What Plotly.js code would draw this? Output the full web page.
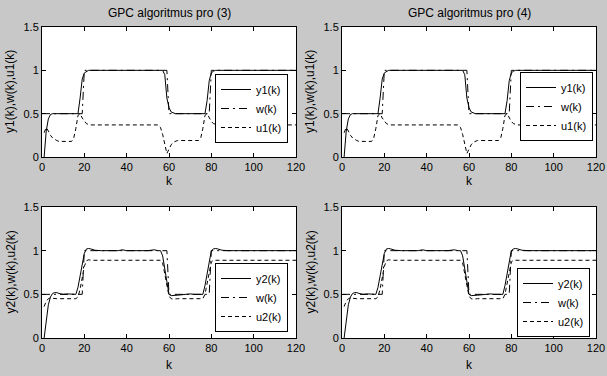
<!DOCTYPE html>
<html>
<head>
<meta charset="utf-8">
<script src="https://cdn.plot.ly/plotly-3.0.1.min.js"></script>
<style>html,body{margin:0;padding:0;background:#c8c8c8;}#chart{width:607px;height:376px;}</style>
</head>
<body>
<div id="chart"></div>
<script>
// ---- data ----
// reference trajectory w(k), same in all panels
const kW = [0, 19, 20, 59, 60, 79, 80, 120];
const w  = [0.5, 0.5, 1, 1, 0.5, 0.5, 1, 1];

// top panels: output y1(k) and control u1(k)
const kY1 = [1,2,3,4,5, 17,18,19,20,21,22, 57,58,59,60,61,62,63, 77,78,79,80,81,82, 120];
const y1  = [0,0.3,0.44,0.49,0.5, 0.5,0.68,0.9,0.97,0.99,1, 1,0.95,0.68,0.57,0.52,0.505,0.5, 0.5,0.65,0.88,0.97,0.99,1, 1];
const kU1 = [1,2,3,4,5,6,7,8, 14,15,16,17,18,19,20,21,22,23, 55,56,57,58,59,60,61,62,63,64, 74,75,76,77,78,79,80,81,82,83, 120];
const u1  = [0.28,0.34,0.3,0.25,0.22,0.2,0.19,0.18, 0.18,0.22,0.33,0.48,0.5,0.45,0.41,0.385,0.375,0.37, 0.37,0.34,0.26,0.13,0.04,0.09,0.14,0.17,0.185,0.19, 0.19,0.22,0.33,0.48,0.5,0.45,0.41,0.385,0.375,0.37, 0.37];

// bottom panels: output y2(k) and control u2(k)
const kY2 = [1,2,3,4,5,6,7,8, 10,12,14,16, 17,18,19,20,21,22,23, 25,28,36,38,40,50,53,55, 56,57,58,59,60,61,62,64, 68,70,72,76, 77,78,79,80,81,82,83, 85,88,98,100,102,120];
const y2  = [0,0.2,0.38,0.47,0.51,0.52,0.52,0.51, 0.5,0.505,0.5,0.5, 0.58,0.71,0.84,0.97,1.02,1.025,1.02, 1.005,1,1,1.01,1,1,1.01,1, 1,0.94,0.8,0.64,0.5,0.485,0.485,0.49, 0.5,0.505,0.5,0.5, 0.6,0.74,0.88,1,1.02,1.025,1.02, 1.005,1,1,1.008,1,1];
const kU2 = [1,2,3,4,5,7, 16,17,18,19,20,21,22, 24, 56,57,58,59,60,61,62, 64, 76,77,78,79,80,81, 83,120];
const u2  = [0.36,0.42,0.45,0.46,0.455,0.45, 0.45,0.47,0.56,0.69,0.82,0.885,0.895, 0.89, 0.89,0.86,0.74,0.6,0.48,0.45,0.445, 0.45, 0.45,0.5,0.63,0.77,0.87,0.89, 0.89,0.89];

const titles = ['GPC algoritmus pro (3)', 'GPC algoritmus pro (4)'];
const xTicks = [0, 20, 40, 60, 80, 100, 120];
const yTicks = [0, 0.5, 1, 1.5];
const yTickText = ['0', '0.5', '1', '1.5'];
const yLabelTop = 'y1(k),w(k),u1(k)';
const yLabelBottom = 'y2(k),w(k),u2(k)';
const namesTop = ['y1(k)', 'w(k)', 'u1(k)'];
const namesBottom = ['y2(k)', 'w(k)', 'u2(k)'];

// ---- styling ----
const FONT = 'Liberation Sans, Arial, sans-serif';
const W = 607, H = 376;
const solid = 'solid', dashdot = '8px,4px,2px,4px', dashed = '4px,3px';

const panels = [
  {ax: '', leg: 'legend',  k: [kY1, kW, kU1], v: [y1, w, u1], names: namesTop},
  {ax: '2', leg: 'legend2', k: [kY1, kW, kU1], v: [y1, w, u1], names: namesTop},
  {ax: '3', leg: 'legend3', k: [kY2, kW, kU2], v: [y2, w, u2], names: namesBottom},
  {ax: '4', leg: 'legend4', k: [kY2, kW, kU2], v: [y2, w, u2], names: namesBottom}
];
const dashes = [solid, dashdot, dashed];

const data = [];
panels.forEach(p => {
  for (let i = 0; i < 3; i++) {
    data.push({
      type: 'scatter', mode: 'lines',
      x: p.k[i], y: p.v[i], name: p.names[i],
      xaxis: 'x' + p.ax, yaxis: 'y' + p.ax, legend: p.leg,
      line: {color: '#000', width: 1, dash: dashes[i]},
      hoverinfo: 'skip'
    });
  }
});

// pixel geometry
const colX = [[42, 296], [342, 596]];
const rowY = [[27, 157], [207, 338]];
const px = v => v / W, py = v => 1 - v / H;

function axis(dom, range, tv, tt) {
  return {
    domain: dom, range: range, tickvals: tv, ticktext: tt,
    ticks: 'inside', ticklen: 4, tickcolor: '#000', tickwidth: 1,
    showline: true, mirror: 'ticks', linecolor: '#000', linewidth: 1,
    showgrid: false, zeroline: false, fixedrange: true,
    tickfont: {family: FONT, size: 11, color: '#000'}
  };
}

const layout = {
  width: W, height: H, autosize: false,
  margin: {l: 0, r: 0, t: 0, b: 0},
  paper_bgcolor: '#c8c8c8', plot_bgcolor: '#ffffff',
  showlegend: true,
  font: {family: FONT, size: 11, color: '#000'},
  annotations: [],
  hovermode: false
};

const legPos = [[215, 74], [520, 72], [215, 263], [517, 268]];
panels.forEach((p, idx) => {
  const c = idx % 2, r = Math.floor(idx / 2);
  const xa = 'xaxis' + p.ax, ya = 'yaxis' + p.ax;
  layout[xa] = axis([px(colX[c][0]), px(colX[c][1])], [0, 120], xTicks, xTicks.map(String));
  layout[xa].anchor = 'y' + p.ax;
  layout[ya] = axis([py(rowY[r][1]), py(rowY[r][0])], [0, 1.5], yTicks, yTickText);
  layout[ya].anchor = 'x' + p.ax;
  layout[p.leg] = {
    x: px(legPos[idx][0]), y: py(legPos[idx][1]), xanchor: 'left', yanchor: 'top',
    bgcolor: '#ffffff', bordercolor: '#000', borderwidth: 1,
    font: {family: FONT, size: 11, color: '#000'}, traceorder: 'normal'
  };
  const cx = (colX[c][0] + colX[c][1]) / 2;
  const cy = (rowY[r][0] + rowY[r][1]) / 2;
  if (r === 0) {
    layout.annotations.push({xref: 'paper', yref: 'paper', x: px(cx), y: py(13), text: titles[c],
      showarrow: false, xanchor: 'center', yanchor: 'middle', font: {family: FONT, size: 12, color: '#000'}});
  }
  layout.annotations.push({xref: 'paper', yref: 'paper', x: px(cx), y: py(r === 0 ? 181 : 365), text: 'k',
    showarrow: false, xanchor: 'center', yanchor: 'middle', font: {family: FONT, size: 12, color: '#000'}});
  layout.annotations.push({xref: 'paper', yref: 'paper', x: px(c === 0 ? 10 : 310), y: py(cy),
    text: r === 0 ? yLabelTop : yLabelBottom, textangle: -90,
    showarrow: false, xanchor: 'center', yanchor: 'middle', font: {family: FONT, size: 12, color: '#000'}});
});

Plotly.newPlot('chart', data, layout, {displayModeBar: false, staticPlot: true});
</script>
</body>
</html>
